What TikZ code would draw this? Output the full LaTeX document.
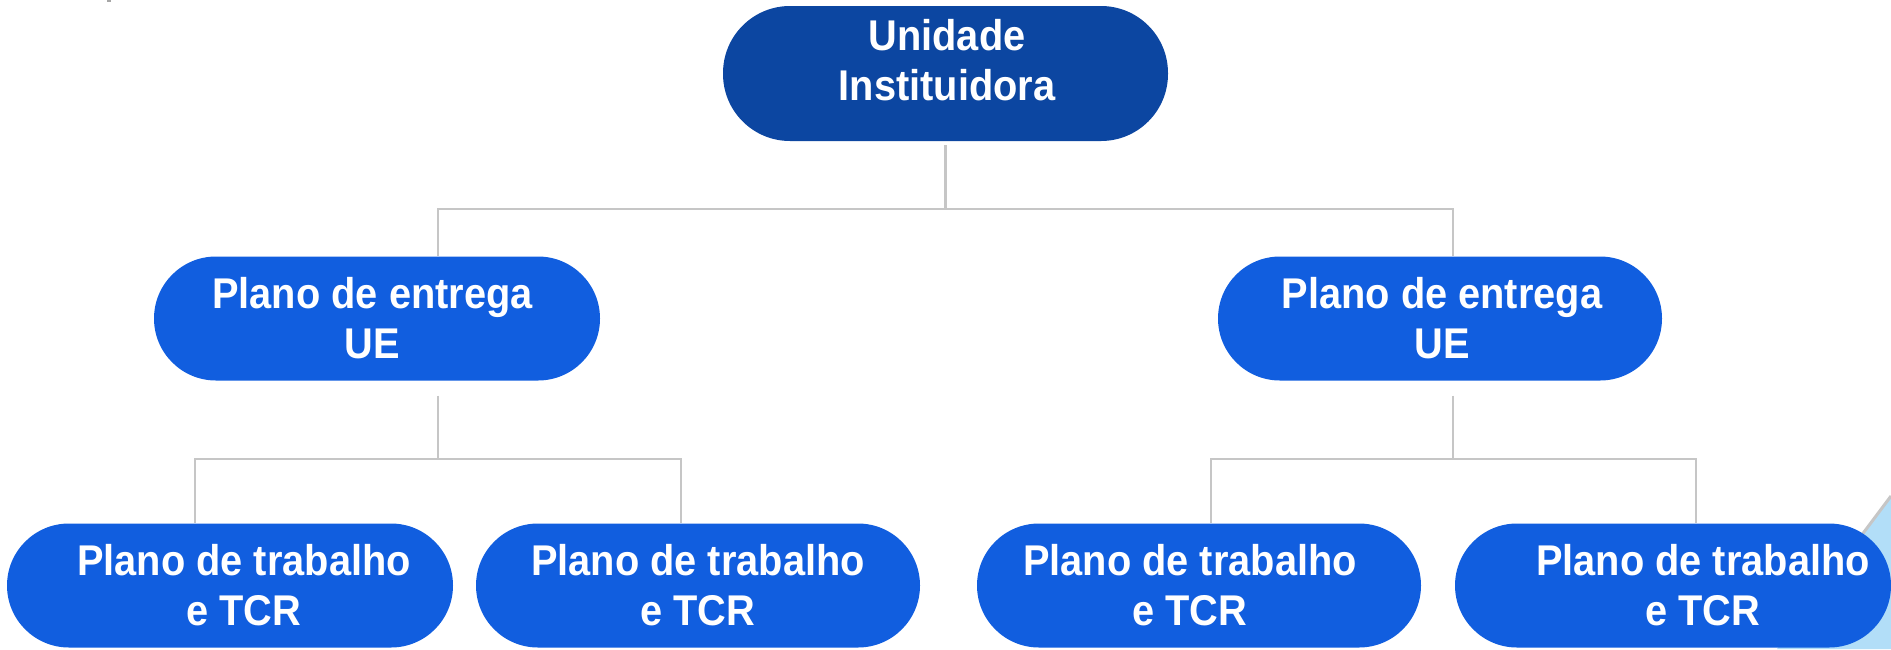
\documentclass[tikz,border=0pt]{standalone}
\usepackage{fontspec}
\setmainfont{Liberation Sans}[FakeStretch=0.925]
\begin{document}
\begin{tikzpicture}[x=1pt,y=-1pt,
  box/.style={draw=none,rectangle,rounded corners=62pt,minimum height=124pt,inner sep=0pt},
  topbox/.style={box,fill=topblue,minimum height=135pt,rounded corners=67pt},
  bluebox/.style={box,fill=nodeblue},
  txt/.style={text=white,font=\fontsize{43}{50}\selectfont\bfseries,align=center,inner sep=0pt},
  conn/.style={draw=lineGrey,line width=2.5pt}]
\definecolor{topblue}{RGB}{12,70,161}
\definecolor{nodeblue}{RGB}{17,94,223}
\definecolor{lineGrey}{RGB}{198,198,198}
\definecolor{lightblue}{RGB}{178,222,248}
\useasboundingbox (0,0) rectangle (1891,649);
% background decorations
\fill[gray!70] (107,0) rectangle (111,2);
\fill[lightblue] (1891,496) -- (1777,649) -- (1891,649) -- cycle;
\draw[lineGrey,line width=3pt] (1891,496) -- (1840,564);
% connector junctions
\coordinate (j0) at (945.5,209);
\coordinate (j1) at (438,459);
\coordinate (j2) at (1453,459);
% nodes (shapes)
\node[topbox,minimum width=445pt] (top) at (945.5,73.5) {};
\node[bluebox,minimum width=446pt] (m1) at (377,318.5) {};
\node[bluebox,minimum width=444pt] (m2) at (1440,318.5) {};
\node[bluebox,minimum width=446pt] (b1) at (230,585.5) {};
\node[bluebox,minimum width=444pt] (b2) at (698,585.5) {};
\node[bluebox,minimum width=444pt] (b3) at (1199,585.5) {};
\node[bluebox,minimum width=436pt] (b4) at (1673,585.5) {};
% connectors
\draw[conn] ([yshift=-4]top.south) -- (j0);
\draw[conn] ([xshift=61]m1.north) |- (j0) -| ([xshift=13]m2.north);
\draw[conn] ([xshift=61,yshift=-15]m1.south) -- (j1);
\draw[conn] ([xshift=-35]b1.north) |- (j1) -| ([xshift=-17]b2.north);
\draw[conn] ([xshift=13,yshift=-15]m2.south) -- (j2);
\draw[conn] ([xshift=12]b3.north) |- (j2) -| ([xshift=23]b4.north);
% texts
\node[txt] (ttop) at ([xshift=1.5,yshift=13.5]top.center) {Unidade\\Instituidora};
\node[txt] (tm1) at ([xshift=-4.5]m1.center) {Plano de entrega\\UE};
\node[txt] (tm2) at ([xshift=2]m2.center) {Plano de entrega\\UE};
\node[txt] (tb1) at ([xshift=14]b1.center) {Plano de trabalho\\e TCR};
\node[txt] (tb2) at (b2.center) {Plano de trabalho\\e TCR};
\node[txt] (tb3) at ([xshift=-9]b3.center) {Plano de trabalho\\e TCR};
\node[txt] (tb4) at ([xshift=30]b4.center) {Plano de trabalho\\e TCR};
\end{tikzpicture}
\end{document}
